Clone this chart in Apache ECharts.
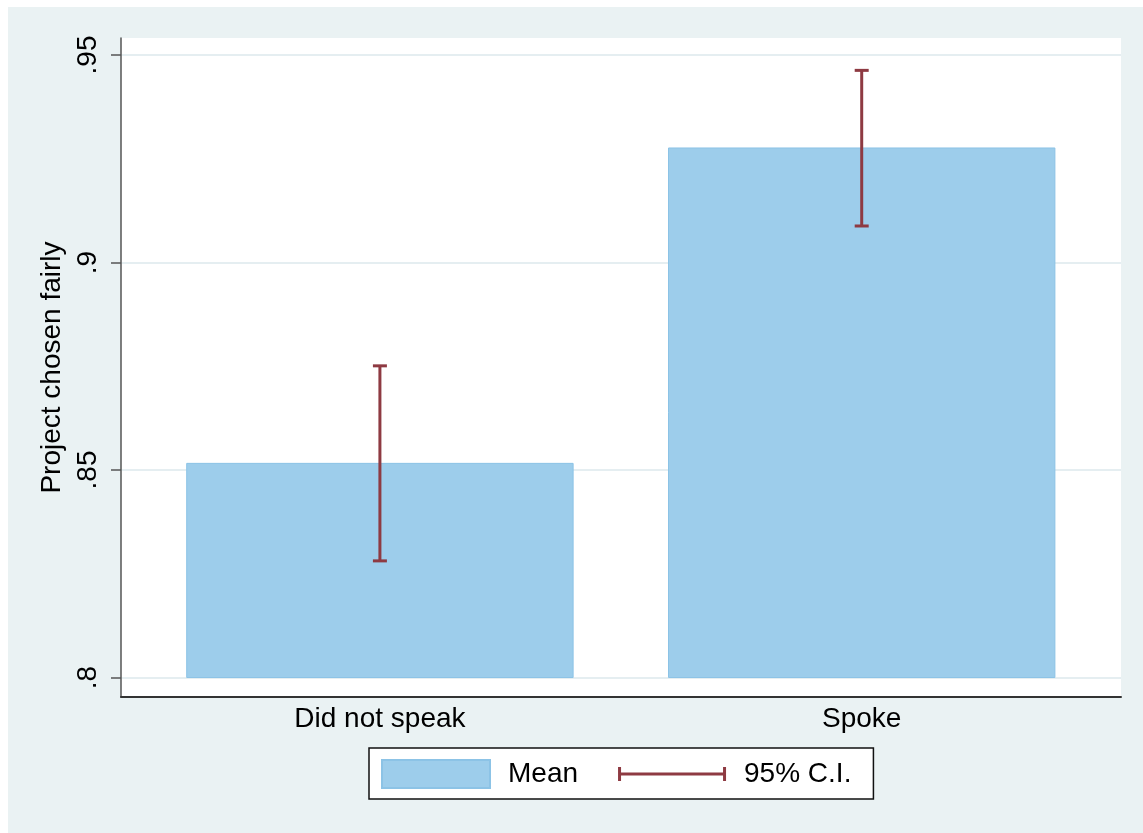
<!DOCTYPE html>
<html>
<head>
<meta charset="utf-8">
<script src="https://cdn.jsdelivr.net/npm/echarts@6/dist/echarts.min.js"></script>
<style>
  html, body { margin: 0; padding: 0; background: #ffffff; width: 1143px; height: 833px; overflow: hidden; }
  #chart { position: absolute; left: 8px; top: 7px; width: 1135px; height: 826px; background: #eaf2f3; }
</style>
</head>
<body>
<div id="chart"></div>
<script>
// Groups on the horizontal axis and their positions
const groups = ['Did not speak', 'Spoke'];
const groupPos = [1, 2];

// Share reporting the project was chosen fairly, with 95% confidence limits
const means = [0.8516, 0.9276];
const ciLow = [0.8281, 0.9088];
const ciHigh = [0.8751, 0.9463];

// Vertical axis ticks and their labels
const yTicks = [0.8, 0.85, 0.9, 0.95];
const yTickLabels = ['.8', '.85', '.9', '.95'];

// Axis extents
const yRange = [0.7953, 0.9541];
const xRange = [0.4626, 2.5382];
const BAR_BASE = 0.8;

const FONT = "'Liberation Sans', Arial, sans-serif";
const BAR_FILL = '#9dcdeb';
const BAR_EDGE = '#8cc3e6';
const CI_COLOR = '#8e3a42';
const GRID_COLOR = '#e5eef1';
const BAR_HALF = 0.401;   // half bar width, in axis units
const CAP_HALF = 7;       // half cap width, in pixels

// Horizontal error-bar symbol for the legend (corner specks fix its bounding box)
const CI_ICON = 'path://M0,0h0.01v0.01zM108,28h-0.01v-0.01z' +
  'M0,7h3v14h-3zM3,12.6h102v2.8h-102zM105,7h3v14h-3z';

const chart = echarts.init(document.getElementById('chart'), null, { renderer: 'canvas' });

chart.setOption({
  animation: false,
  textStyle: { fontFamily: FONT },
  grid: {
    left: 113, right: 22, top: 31, bottom: 136,
    show: true, backgroundColor: '#ffffff', borderWidth: 0
  },
  xAxis: {
    type: 'value',
    min: xRange[0], max: xRange[1],
    axisLine: { show: true, onZero: false, lineStyle: { color: '#333333', width: 2 } },
    axisTick: { show: false },
    splitLine: { show: false },
    axisLabel: {
      customValues: groupPos,
      margin: 8,
      fontSize: 28, color: '#000000', fontFamily: FONT,
      formatter: v => groups[groupPos.indexOf(v)]
    }
  },
  yAxis: {
    type: 'value',
    min: yRange[0], max: yRange[1],
    name: 'Project chosen fairly',
    nameLocation: 'middle',
    nameGap: 51,
    nameRotate: 90,
    nameTextStyle: { fontSize: 28, color: '#000000', fontFamily: FONT },
    axisLine: { show: true, onZero: false, lineStyle: { color: '#555555', width: 1.5 } },
    axisTick: { show: true, length: 10, customValues: yTicks, lineStyle: { color: '#555555', width: 1.5 } },
    axisLabel: {
      customValues: yTicks,
      rotate: 90,
      margin: 19,
      fontSize: 28, color: '#000000', fontFamily: FONT,
      formatter: v => yTickLabels[yTicks.findIndex(t => Math.abs(t - v) < 1e-9)]
    },
    splitLine: { show: true, lineStyle: { color: GRID_COLOR, width: 2 } }
  },
  legend: {
    left: 361, top: 741,
    orient: 'horizontal',
    backgroundColor: '#ffffff',
    borderColor: '#111111', borderWidth: 1.5, borderRadius: 0,
    padding: [11, 22, 10, 12],
    itemGap: 40, itemWidth: 108, itemHeight: 28,
    selectedMode: false,
    textStyle: { fontSize: 28, color: '#000000', fontFamily: FONT, padding: [0, 0, 0, 13] },
    data: [
      { name: 'Mean', icon: 'rect' },
      { name: '95% C.I.', icon: CI_ICON }
    ]
  },
  series: [
    {
      name: 'Mean',
      type: 'custom',
      z: 2,
      itemStyle: { color: BAR_FILL, borderColor: BAR_EDGE, borderWidth: 1 },
      encode: { x: 0, y: 1 },
      data: groupPos.map((x, i) => [x, means[i]]),
      renderItem: (params, api) => {
        const x = api.value(0);
        const top = api.coord([x - BAR_HALF, api.value(1)]);
        const bottom = api.coord([x + BAR_HALF, BAR_BASE]);
        return {
          type: 'rect',
          shape: { x: top[0], y: top[1], width: bottom[0] - top[0], height: bottom[1] - top[1] },
          style: { fill: BAR_FILL, stroke: BAR_EDGE, lineWidth: 1 }
        };
      }
    },
    {
      name: '95% C.I.',
      type: 'custom',
      z: 3,
      itemStyle: { color: CI_COLOR },
      encode: { x: 0, y: [1, 2] },
      data: groupPos.map((x, i) => [x, ciLow[i], ciHigh[i]]),
      renderItem: (params, api) => {
        const x = api.value(0);
        const lo = api.coord([x, api.value(1)]);
        const hi = api.coord([x, api.value(2)]);
        const st = { stroke: CI_COLOR, lineWidth: 3 };
        return {
          type: 'group',
          children: [
            { type: 'line', shape: { x1: lo[0], y1: lo[1], x2: hi[0], y2: hi[1] }, style: st },
            { type: 'line', shape: { x1: hi[0] - CAP_HALF, y1: hi[1], x2: hi[0] + CAP_HALF, y2: hi[1] }, style: st },
            { type: 'line', shape: { x1: lo[0] - CAP_HALF, y1: lo[1], x2: lo[0] + CAP_HALF, y2: lo[1] }, style: st }
          ]
        };
      }
    }
  ]
});
</script>
</body>
</html>
